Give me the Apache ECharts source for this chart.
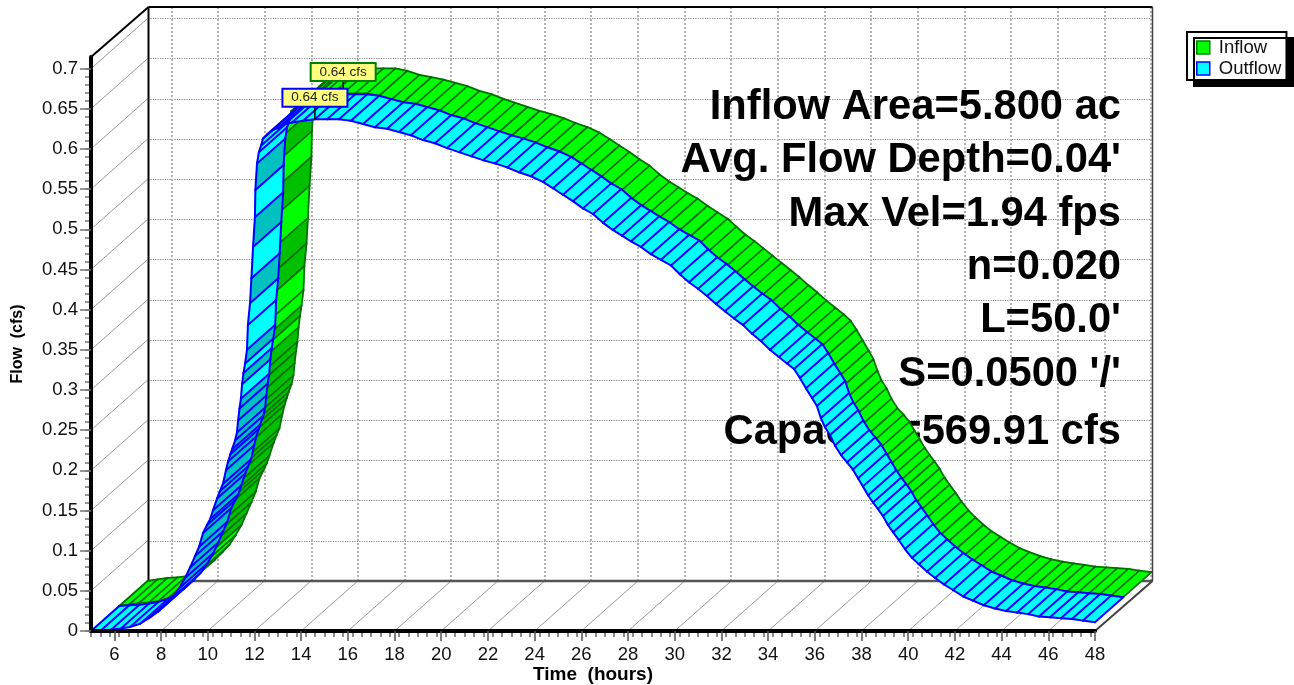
<!DOCTYPE html>
<html>
<head>
<meta charset="utf-8">
<style>html,body{margin:0;padding:0;background:#fff}#chart{width:1294px;height:685px}</style>
<script src="https://cdn.jsdelivr.net/npm/echarts@6/dist/echarts.min.js"></script>
</head>
<body>
<div id="chart"></div>
<script>
const xTicks = [6,8,10,12,14,16,18,20,22,24,26,28,30,32,34,36,38,40,42,44,46,48];
const yTicks = [0,0.05,0.1,0.15,0.2,0.25,0.3,0.35,0.4,0.45,0.5,0.55,0.6,0.65,0.7];
const infoLines = ["Inflow Area=5.800 ac","Avg. Flow Depth=0.04'","Max Vel=1.94 fps","n=0.020","L=50.0'","S=0.0500 '/'","Capacity=569.91 cfs"];
const infoY = [106,159,213,266,319,373,431];
const peakLabel = "0.64 cfs";
const peakIndex = 51;

const time = [5,5.43,5.86,6.28,6.67,7.10,7.48,7.87,8.21,8.51,8.77,9.03,9.24,9.45,9.63,9.80,9.97,10.10,10.22,10.40,10.52,10.65,10.78,10.87,10.97,11.04,11.17,11.25,11.30,11.36,11.42,11.47,11.53,11.60,11.68,11.72,11.81,11.87,11.94,12.02,12.04,12.11,12.19,12.28,12.37,12.54,12.75,13.01,13.31,13.61,14.08,14.59,15.11,15.62,16.13,16.65,17.16,17.68,18.19,18.70,19.22,19.73,20.25,20.76,21.27,21.79,22.30,22.82,23.33,23.84,24.36,24.79,25.21,25.64,26.07,26.50,26.93,27.36,27.74,28.13,28.55,28.98,29.41,29.84,30.22,30.61,31.00,31.38,31.77,32.15,32.54,32.92,33.31,33.69,34.08,34.46,34.81,35.11,35.36,35.62,35.88,36.09,36.26,36.43,36.65,36.86,37.12,37.38,37.63,37.85,38.06,38.28,38.49,38.70,38.92,39.13,39.35,39.60,39.86,40.16,40.46,40.80,41.15,41.53,41.92,42.35,42.77,43.24,43.72,44.19,44.66,45.13,45.60,46.07,46.54,47.01,47.48,48];

const outflow = [0,.001,.0015,.003,.005,.009,.016,.024,.033,.042,.053,.066,.079,.093,.105,.122,.132,.139,.150,.165,.174,.183,.200,.211,.220,.226,.237,.247,.262,.277,.289,.307,.321,.333,.350,.381,.408,.439,.478,.515,.549,.582,.596,.604,.613,.618,.623,.626,.631,.633,.635,.637,.637,.637,.635,.631,.627,.625,.621,.617,.611,.607,.601,.596,.591,.586,.582,.577,.571,.566,.559,.551,.543,.535,.526,.519,.508,.499,.492,.485,.478,.469,.462,.455,.444,.434,.426,.417,.407,.398,.389,.381,.370,.361,.350,.341,.333,.326,.315,.302,.290,.280,.265,.254,.244,.231,.219,.210,.201,.190,.180,.169,.160,.152,.143,.132,.123,.113,.102,.091,.083,.074,.066,.058,.051,.043,.038,.032,.028,.025,.023,.021,.018,.017,.016,.015,.013,.011];

const inflow = [0,.002,.004,.0045,.006,.010,.017,.026,.036,.045,.057,.070,.084,.098,.111,.128,.138,.146,.156,.172,.181,.190,.208,.219,.228,.235,.245,.256,.271,.286,.298,.316,.330,.343,.362,.392,.420,.452,.492,.528,.560,.588,.600,.608,.616,.620,.624,.627,.632,.634,.636,.638,.638,.638,.635,.630,.627,.624,.620,.616,.610,.606,.600,.595,.590,.585,.581,.576,.570,.565,.558,.550,.542,.534,.525,.517,.506,.497,.490,.483,.476,.467,.459,.451,.441,.431,.423,.414,.405,.396,.387,.378,.368,.359,.349,.340,.332,.324,.313,.300,.287,.276,.262,.250,.240,.227,.215,.207,.198,.187,.177,.166,.157,.149,.140,.129,.120,.110,.099,.088,.079,.070,.062,.055,.048,.041,.036,.031,.027,.024,.022,.020,.018,.017,.016,.015,.013,.011];

// segments drawn in the darker shade
const shadedOutflow = [10,11,12,13,14,15,16,17,18,19,20,21,22,23,24,25,26,27,28,29,31,33,36,38,40];
const shadedInflow = [11,12,13,14,15,16,17,18,19,20,21,22,23,24,25,26,27,28,29,30,32,35,36,38,40];

const DX = 56.5, DY = -50;
const yTop = 0.7144;
const minorX = [], minorY = [];
for (let v = 5; v < 48.01; v += 0.4) minorX.push(+v.toFixed(1));
for (let v = 0; v < 0.7001; v += 0.01) minorY.push(+v.toFixed(2));

function band(vals, shaded, d0, d1, fill, dark, edge, edgeW) {
  return function (params, api) {
    const i = params.dataIndex;
    if (i >= time.length - 1) return {type: 'group', children: []};
    const a = api.coord([time[i], vals[i]]);
    const b = api.coord([time[i + 1], vals[i + 1]]);
    const af = [a[0] + DX * d0, a[1] + DY * d0], ab = [a[0] + DX * d1, a[1] + DY * d1];
    const bf = [b[0] + DX * d0, b[1] + DY * d0], bb = [b[0] + DX * d1, b[1] + DY * d1];
    const c = shaded.indexOf(i) >= 0 ? dark : fill;
    const line = (p, q) => ({type: 'line', z2: 2, shape: {x1: p[0], y1: p[1], x2: q[0], y2: q[1]},
      style: {stroke: edge, lineWidth: edgeW, lineCap: 'round'}, silent: true});
    const kids = [
      {type: 'polygon', z2: 1, shape: {points: [af, bf, bb, ab]}, style: {fill: c, stroke: c, lineWidth: 0.6}, silent: true},
      line(af, bf), line(ab, bb), line(af, ab)
    ];
    if (i === time.length - 2) kids.push(line(bf, bb));
    return {type: 'group', children: kids};
  };
}

function gridWall(params, api) {
  const v = api.value(0), kind = api.value(1);
  const p = kind === 0 ? api.coord([v, 0]) : api.coord([5, v]);
  return {type: 'line', shape: {x1: p[0], y1: p[1], x2: p[0] + DX, y2: p[1] + DY},
    style: {stroke: '#999', lineWidth: 1}, silent: true};
}

function frame(params, api) {
  const seg = (a, b, c, w) => ({type: 'line', shape: {x1: a[0], y1: a[1], x2: b[0], y2: b[1]},
    style: {stroke: c, lineWidth: w}, silent: true});
  const tl = api.coord([5, yTop]), br = api.coord([48, 0]), bl = api.coord([5, 0]), tr = api.coord([48, yTop]);
  const s = p => [p[0] + 57.5, p[1] + DY];
  return {type: 'group', children: [
    seg(tl, s(tl), '#000', 2),
    seg(s(tl), s(tr), '#000', 2),
    seg(s(bl), s(tl), '#000', 2),
    seg(s(bl), s(br), '#555', 2.5),
    seg(s(br), s(tr), '#444', 1.5),
    seg(br, s(br), '#444', 2)
  ]};
}

function peakTag(vals, depth, border) {
  return function (params, api) {
    const p = api.coord([time[peakIndex], vals[peakIndex]]);
    const x = p[0] + DX * depth, y = p[1] + DY * depth;
    return {type: 'group', children: [
      {type: 'line', shape: {x1: x, y1: y, x2: x, y2: y - 14}, style: {stroke: '#000', lineWidth: 1.5}, silent: true},
      {type: 'rect', shape: {x: x - 32.5, y: y - 30.5, width: 65, height: 18},
        style: {fill: '#FFFF80', stroke: border, lineWidth: 2}, silent: true},
      {type: 'text', x: x, y: y - 21.5,
        style: {text: peakLabel, fill: '#222', font: '13.5px "Liberation Sans"', align: 'center', verticalAlign: 'middle'}, silent: true}
    ]};
  };
}

const txt = {color: '#111', fontFamily: 'Liberation Sans', fontSize: 18.5};
const chart = echarts.init(document.getElementById('chart'));
chart.setOption({
  animation: false,
  backgroundColor: '#fff',
  textStyle: {fontFamily: 'Liberation Sans'},
  legend: {
    left: 1187, top: 32, orient: 'vertical', selectedMode: false,
    itemWidth: 13, itemHeight: 13, itemGap: 0, padding: [5, 5, 1, 9],
    backgroundColor: '#fff', borderColor: '#000', borderWidth: 2,
    shadowColor: '#000', shadowBlur: 0, shadowOffsetX: 7, shadowOffsetY: 6,
    textStyle: {color: '#111', fontFamily: 'Liberation Sans', fontSize: 18.5, lineHeight: 18, padding: [3, 0, 0, 4]},
    data: [
      {name: 'Inflow', icon: 'rect', itemStyle: {color: '#00FF00', borderColor: '#008000', borderWidth: 1.5}},
      {name: 'Outflow', icon: 'rect', itemStyle: {color: '#00FFFF', borderColor: '#0000FF', borderWidth: 1.5}}
    ]
  },
  grid: [
    {left: 91, top: 57, width: 1004, height: 574, outerBoundsMode: 'none'},
    {left: 148, top: 7, width: 1003, height: 574, outerBoundsMode: 'none'}
  ],
  xAxis: [
    {type: 'value', gridIndex: 0, min: 5, max: 48, position: 'bottom', z: 6,
      name: 'Time  (hours)', nameLocation: 'middle', nameGap: 34, nameMoveOverlap: false,
      nameTextStyle: {color: '#000', fontFamily: 'Liberation Sans', fontSize: 19, fontWeight: 'bold'},
      axisLine: {onZero: false, lineStyle: {color: '#000', width: 4}},
      axisTick: {customValues: xTicks, length: 10, lineStyle: {color: '#555', width: 1.5}},
      axisLabel: Object.assign({customValues: xTicks, margin: 14}, txt),
      splitLine: {show: false}},
    {type: 'value', gridIndex: 0, min: 5, max: 48, position: 'bottom', z: 5,
      axisLine: {show: false},
      axisTick: {customValues: minorX, length: 6, lineStyle: {color: '#666', width: 1.5}},
      axisLabel: {show: false}, splitLine: {show: false}},
    {type: 'value', gridIndex: 1, min: 5, max: 48, position: 'bottom',
      axisLine: {show: false}, axisLabel: {show: false},
      axisTick: {show: false, customValues: xTicks},
      splitLine: {show: true, lineStyle: {color: '#b4b4b4', type: 'dotted', width: 2}}}
  ],
  yAxis: [
    {type: 'value', gridIndex: 0, min: 0, max: yTop, position: 'left', z: 6,
      name: 'Flow  (cfs)', nameLocation: 'middle', nameGap: 65, nameMoveOverlap: false,
      nameTextStyle: {color: '#000', fontFamily: 'Liberation Sans', fontSize: 16, fontWeight: 'bold'},
      axisLine: {onZero: false, lineStyle: {color: '#000', width: 4}},
      axisTick: {customValues: yTicks, length: 11, lineStyle: {color: '#777', width: 1.5}},
      axisLabel: Object.assign({customValues: yTicks, margin: 13, padding: [3, 0, 0, 0]}, txt),
      splitLine: {show: false}},
    {type: 'value', gridIndex: 0, min: 0, max: yTop, position: 'left', z: 5,
      axisLine: {show: false},
      axisTick: {customValues: minorY, length: 6, lineStyle: {color: '#777', width: 1.5}},
      axisLabel: {show: false}, splitLine: {show: false}},
    {type: 'value', gridIndex: 1, min: 0, max: yTop, position: 'left',
      axisLine: {show: false}, axisLabel: {show: false},
      axisTick: {show: false, customValues: yTicks},
      splitLine: {show: true, lineStyle: {color: '#888', type: 'dotted', width: 1.2}}}
  ],
  graphic: infoLines.map((s, i) => ({
    type: 'text', z: 1, right: 173, top: infoY[i] - 19, silent: true,
    style: {text: s, fill: '#000', font: 'bold 41.7px "Liberation Sans"', textAlign: 'right'}
  })),
  series: [
    {type: 'custom', name: 'wall', z: 1, clip: false, xAxisIndex: 0, yAxisIndex: 0, silent: true,
      renderItem: gridWall,
      data: xTicks.map(v => [v, 0]).concat(yTicks.map(v => [v, 1]))},
    {type: 'custom', name: 'frame', z: 2, clip: false, xAxisIndex: 0, yAxisIndex: 0, silent: true,
      renderItem: frame, data: [[5, 0]]},
    {type: 'custom', name: 'Inflow', z: 3, clip: false, xAxisIndex: 0, yAxisIndex: 0, silent: true,
      renderItem: band(inflow, shadedInflow, 0.5, 1, '#00FF00', '#00C000', '#007000', 1.8),
      data: time.map((t, i) => [t, inflow[i]])},
    {type: 'custom', name: 'Outflow', z: 4, clip: false, xAxisIndex: 0, yAxisIndex: 0, silent: true,
      renderItem: band(outflow, shadedOutflow, 0, 0.5, '#00FFFF', '#00C0C0', '#0000FF', 2),
      data: time.map((t, i) => [t, outflow[i]])},
    {type: 'custom', name: 'inflowPeak', z: 5, clip: false, xAxisIndex: 0, yAxisIndex: 0, silent: true,
      renderItem: peakTag(inflow, 0.5, '#008000'), data: [[time[peakIndex], inflow[peakIndex]]]},
    {type: 'custom', name: 'outflowPeak', z: 6, clip: false, xAxisIndex: 0, yAxisIndex: 0, silent: true,
      renderItem: peakTag(outflow, 0, '#0000FF'), data: [[time[peakIndex], outflow[peakIndex]]]}
  ]
});
</script>
</body>
</html>
